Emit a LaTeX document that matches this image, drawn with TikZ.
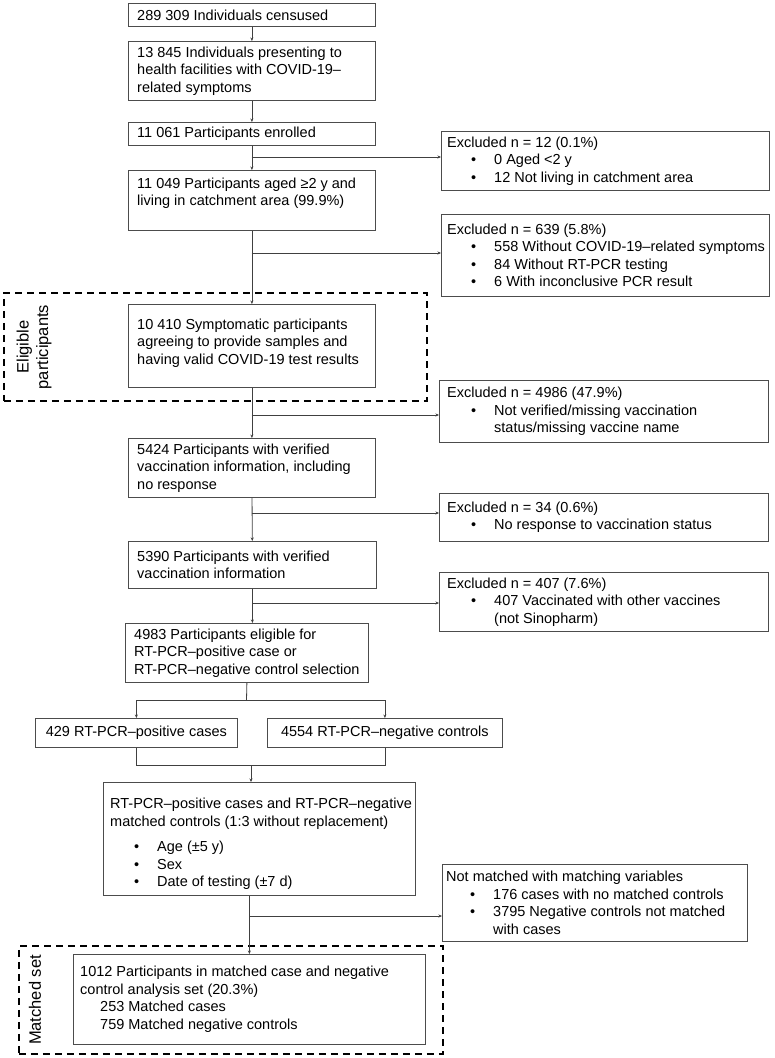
\documentclass[tikz,border=0pt]{standalone}
\usepackage{fontspec}
\setmainfont{Liberation Sans}
\usetikzlibrary{calc,arrows.meta}
\newcommand{\mkbox}[7]{%
  \node[boxst, minimum width=#4pt, minimum height=#5pt, anchor=north west] (#1) at (#2,#3) {};
  \node[txtst, anchor=west] (#1t) at ($(#1.west)+(#6)$) {#7};}
\newcommand{\bul}{\hspace*{24pt}\makebox[23pt][l]{•}}
\newcommand{\cont}{\hspace*{47pt}}
\tikzset{
  boxst/.style={draw=black!70, line width=0.8pt, inner sep=0pt},
  txtst/.style={inner sep=0pt, align=left, font=\fontsize{14.5}{17.5}\selectfont},
  ctxt/.style={font=\fontsize{14.5}{17.5}\selectfont},
  rtxt/.style={font=\fontsize{16.5}{19.5}\selectfont, rotate=90, align=center},
  dashst/.style={draw=black, line width=1.6pt, dash pattern=on 7pt off 5pt, inner sep=0pt},
  arr/.style={draw=black!75, line width=0.8pt, -{Stealth[length=3.5pt,width=3pt]}},
  ln/.style={draw=black!75, line width=0.8pt}
}
\begin{document}
\begin{tikzpicture}[x=1pt,y=-1pt]
\useasboundingbox (0,0) rectangle (775,1058);
% dashed groups
\node[dashst, minimum width=423pt, minimum height=108pt, anchor=north west] (d1) at (3,292) {};
\node[dashst, minimum width=424pt, minimum height=108pt, anchor=north west] (d2) at (18,945) {};
\node[rtxt] (l1) at (34,347) {Eligible\\participants};
\node[rtxt] (l2) at (35,1000) {Matched set};
% main column
\mkbox{b1}{128}{3}{247}{23}{9,0}{289 309 Individuals censused}
\mkbox{b2}{128}{41}{247}{59}{9,0}{13 845 Individuals presenting to\\health facilities with COVID-19–\\related symptoms}
\mkbox{b3}{128}{122}{247}{23}{9,0}{11 061 Participants enrolled}
\mkbox{b4}{128}{170}{247}{60}{9,-7}{11 049 Participants aged ≥2 y and\\living in catchment area (99.9\%)}
\mkbox{b5}{128}{304}{247}{83}{9,-3}{10 410 Symptomatic participants\\agreeing to provide samples and\\having valid COVID-19 test results}
\mkbox{b6}{128}{438}{247}{59}{9,0}{5424 Participants with verified\\vaccination information, including\\no response}
\mkbox{b8}{128}{541}{248}{47}{9,0}{5390 Participants with verified\\vaccination information}
\mkbox{b7}{125}{623}{243}{59}{9,0}{4983 Participants eligible for\\RT-PCR–positive case or\\RT-PCR–negative control selection}
\node[boxst, ctxt, minimum width=202pt, minimum height=29pt, anchor=north west] (c1) at (35,718) {429 RT-PCR–positive cases};
\node[boxst, ctxt, minimum width=235pt, minimum height=29pt, anchor=north west] (c2) at (267,718) {4554 RT-PCR–negative controls};
\mkbox{mb}{103}{782}{312}{113}{7,5}{RT-PCR–positive cases and RT-PCR–negative\\matched controls (1:3 without replacement)\\[8pt]\bul Age (±5 y)\\\bul Sex\\\bul Date of testing (±7 d)}
\mkbox{fb}{73}{954}{352}{90}{7,0}{1012 Participants in matched case and negative\\control analysis set (20.3\%)\\\hspace*{20pt}253 Matched cases\\\hspace*{20pt}759 Matched negative controls}
% exclusion boxes
\mkbox{e1}{441}{131}{328}{59}{6,0}{Excluded n = 12 (0.1\%)\\\bul 0 Aged <2 y\\\bul 12 Not living in catchment area}
\mkbox{e2}{441}{214}{328}{82}{6,0}{Excluded n = 639 (5.8\%)\\\bul 558 Without COVID-19–related symptoms\\\bul 84 Without RT-PCR testing\\\bul 6 With inconclusive PCR result}
\mkbox{e3}{439}{380}{329}{62}{8,0}{Excluded n = 4986 (47.9\%)\\\bul Not verified/missing vaccination\\\cont status/missing vaccine name}
\mkbox{e4}{439}{493}{329}{48}{8,0}{Excluded n = 34 (0.6\%)\\\bul No response to vaccination status}
\mkbox{e5}{439}{572}{329}{59}{8,0}{Excluded n = 407 (7.6\%)\\\bul 407 Vaccinated with other vaccines\\\cont (not Sinopharm)}
\mkbox{nm}{442}{864}{305}{77}{4,0}{Not matched with matching variables\\\bul 176 cases with no matched controls\\\bul 3795 Negative controls not matched\\\cont with cases}
% connectors
\draw[arr] (b1) -- (b2);
\draw[arr] (b2) -- (b3);
\draw[arr] (b3) -- (b4);
\draw[arr] (b4) -- (b5);
\draw[arr] (b5) -- (b6);
\draw[arr] (b6) -- (b8);
\draw[arr] (b8.south) -- (b8.south |- b7.north);
\coordinate (j1) at (251.5,157);
\coordinate (j2) at (251.5,253);
\coordinate (j3) at (251.5,415);
\coordinate (j4) at (251.5,513);
\coordinate (j5) at (252,603);
\draw[arr] (j1) -- (j1 -| e1.west);
\draw[arr] (j2) -- (j2 -| e2.west);
\draw[arr] (j3) -- (j3 -| e3.west);
\draw[arr] (j4) -- (j4 -| e4.west);
\draw[arr] (j5) -- (j5 -| e5.west);
\coordinate (s) at (246.5,700);
\draw[ln] (b7.south) -- (s);
\draw[arr] (s) -| (c1.north);
\draw[arr] (s) -| (c2.north);
\coordinate (m) at (251,765);
\draw[ln] (c1.south) |- (m);
\draw[ln] (c2.south) |- (m);
\draw[arr] (m) -- (m |- mb.north);
\draw[arr] (fb.north |- mb.south) -- (fb.north);
\coordinate (j6) at (249,916);
\draw[arr] (j6) -- (j6 -| nm.west);
\end{tikzpicture}
\end{document}
